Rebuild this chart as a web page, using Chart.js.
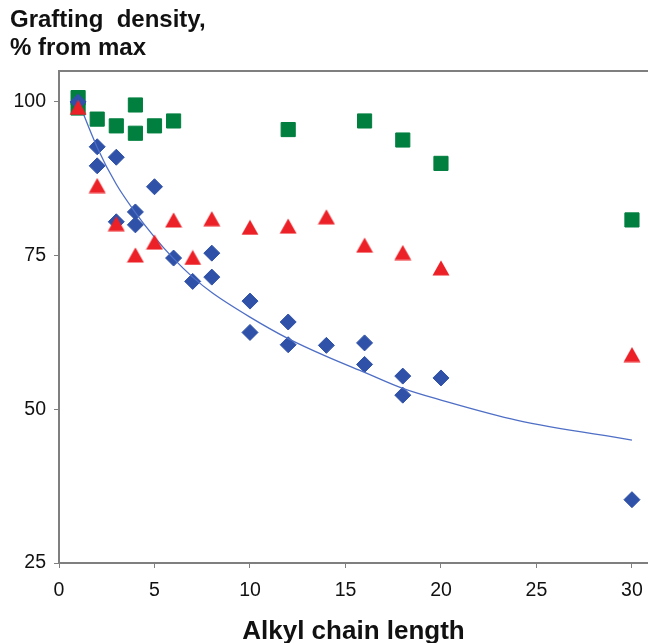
<!DOCTYPE html>
<html>
<head>
<meta charset="utf-8">
<script src="https://cdn.jsdelivr.net/npm/chart.js@4/dist/chart.umd.min.js"></script>
<style>
html,body{margin:0;padding:0;background:#fff;overflow:hidden;}
#wrap{width:648px;height:643px;position:relative;}
</style>
</head>
<body>
<div id="wrap"><canvas id="c"></canvas></div>
<script>
// ---- data ----
const titleLines = ['Grafting  density,', '% from max'];
const xTitle = 'Alkyl chain length';
const xTicks = [0, 5, 10, 15, 20, 25, 30];
const yTicks = [25, 50, 75, 100];

const greenX = [1, 1, 2, 3, 4, 4, 5, 6, 12, 16, 18, 20, 30];
const greenY = [100.7, 99.0, 97.2, 96.1, 99.5, 94.9, 96.1, 96.9, 95.5, 96.9, 93.8, 90.0, 80.8];

const blueX = [1, 2, 2, 3, 3, 4, 4, 5, 6, 7, 8, 8, 10, 10, 12, 12, 14, 16, 16, 18, 18, 20, 30];
const blueY = [100.0, 92.7, 89.6, 91.0, 80.5, 82.1, 80.0, 86.2, 74.6, 70.8, 75.4, 71.5, 67.6, 62.5, 64.2, 60.5, 60.4, 60.8, 57.3, 55.4, 52.3, 55.1, 35.3];

const redX = [1, 2, 3, 4, 5, 6, 7, 8, 10, 12, 14, 16, 18, 20, 30];
const redY = [99.1, 86.4, 80.2, 75.1, 77.2, 80.8, 74.7, 81.0, 79.6, 79.8, 81.3, 76.7, 75.5, 73.0, 58.9];

const fitX = [1, 2, 3, 4, 5, 6, 7, 8, 10, 12, 14, 16, 18, 20, 24, 30];
const fitY = [100.2, 92.6, 86.6, 82.0, 78.0, 74.5, 71.5, 69.0, 65.0, 61.5, 58.6, 56.0, 53.4, 51.5, 48.2, 45.0];

// ---- build ----
const pts = (xs, ys) => xs.map((x, i) => ({x: x, y: ys[i]}));

// triangle marker whose bounding box is centred on the point
function triMarker(color) {
  const c = document.createElement('canvas');
  c.width = 18; c.height = 16;
  const g = c.getContext('2d');
  g.fillStyle = color;
  g.beginPath();
  g.moveTo(9, 0.5);
  g.lineTo(17.5, 15.5);
  g.lineTo(0.5, 15.5);
  g.closePath();
  g.fill();
  return c;
}

const FONT = "'Liberation Sans', Arial, sans-serif";
const AXIS = '#7f7f7f';
const noSidePad = s => { s.paddingLeft = 0; s.paddingRight = 0; };

new Chart(document.getElementById('c'), {
  type: 'scatter',
  data: {
    datasets: [
      {
        label: 'red',
        data: pts(redX, redY),
        pointStyle: triMarker('#ec2027'),
        pointRadius: 9,
        backgroundColor: '#ec2027',
        borderColor: '#ec2027',
        order: 0
      },
      {
        label: 'fit',
        type: 'line',
        data: pts(fitX, fitY),
        showLine: true,
        pointRadius: 0,
        borderColor: '#4f6fc6',
        borderWidth: 1.3,
        cubicInterpolationMode: 'monotone',
        fill: false,
        order: 1
      },
      {
        label: 'blue',
        data: pts(blueX, blueY),
        pointStyle: 'rectRot',
        pointRadius: 8,
        backgroundColor: '#2f51a8',
        borderColor: '#2f51a8',
        borderWidth: 1,
        order: 2
      },
      {
        label: 'green',
        data: pts(greenX, greenY),
        pointStyle: 'rect',
        pointRadius: 10,
        backgroundColor: '#017f3f',
        borderColor: '#017f3f',
        borderWidth: 1,
        order: 3
      }
    ]
  },
  options: {
    responsive: true,
    maintainAspectRatio: false,
    animation: false,
    events: [],
    layout: {autoPadding: false, padding: {left: 10, right: 0, top: 0, bottom: 0}},
    plugins: {
      legend: {display: false},
      tooltip: {enabled: false},
      title: {
        display: true,
        text: titleLines,
        align: 'start',
        color: '#111',
        font: {family: FONT, size: 24, weight: 'bold', lineHeight: 1.17},
        padding: {top: 6, bottom: 9}
      }
    },
    scales: {
      x: {
        type: 'linear',
        position: 'bottom',
        min: 0,
        max: 30.84,
        afterBuildTicks: s => { s.ticks = xTicks.map(v => ({value: v})); },
        afterFit: s => { s.height = 80; noSidePad(s); },
        ticks: {
          color: '#111',
          font: {family: FONT, size: 19.5},
          padding: 11,
          maxRotation: 0
        },
        grid: {display: true, drawOnChartArea: false, drawTicks: true, tickLength: 5, color: AXIS, tickColor: AXIS, lineWidth: 1},
        border: {display: true, color: AXIS, width: 2},
        title: {
          display: true,
          text: xTitle,
          color: '#111',
          font: {family: FONT, size: 26, weight: 'bold', lineHeight: 0.85},
          padding: {top: 0, bottom: 0}
        }
      },
      x2: {
        type: 'linear',
        position: 'top',
        min: 0,
        max: 30.84,
        afterFit: noSidePad,
        ticks: {display: false},
        grid: {display: false, drawTicks: false},
        border: {display: true, color: AXIS, width: 2}
      },
      y: {
        type: 'linear',
        min: 25,
        max: 105,
        afterBuildTicks: s => { s.ticks = yTicks.map(v => ({value: v})); },
        afterFit: s => { s.width = 49; },
        ticks: {
          color: '#111',
          font: {family: FONT, size: 19.5},
          padding: 8
        },
        grid: {display: true, drawOnChartArea: false, drawTicks: true, tickLength: 5, color: AXIS, tickColor: AXIS, lineWidth: 1},
        border: {display: true, color: AXIS, width: 2}
      }
    }
  }
});
</script>
</body>
</html>
